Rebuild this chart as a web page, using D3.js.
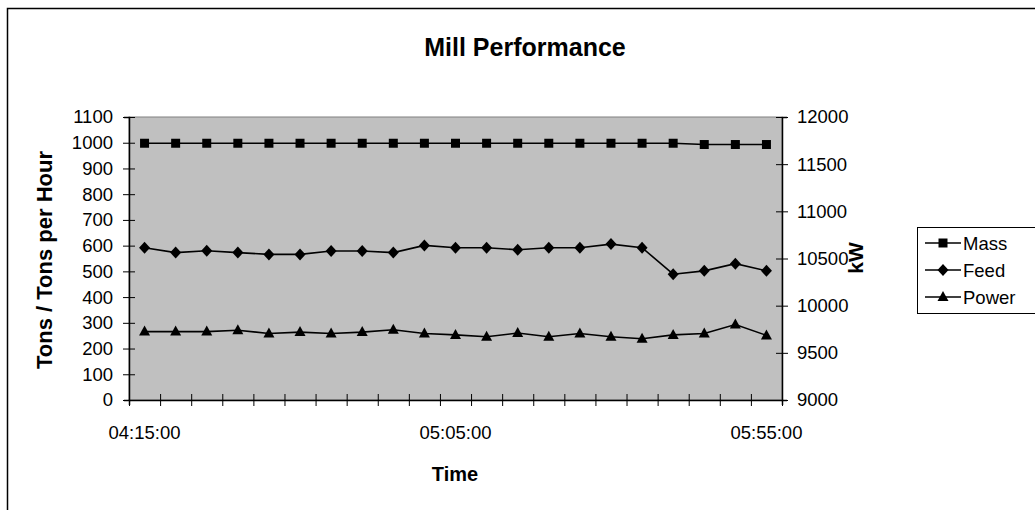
<!DOCTYPE html>
<html>
<head>
<meta charset="utf-8">
<script src="https://cdn.jsdelivr.net/npm/d3@7"></script>
<style>
  html, body { margin: 0; padding: 0; background: #fff; }
  svg { display: block; font-family: "Liberation Sans", Arial, sans-serif; }
</style>
</head>
<body>
<svg id="chart" width="1035" height="510"></svg>
<script>
// Sample times, one reading every five minutes
const times = ["04:15:00","04:20:00","04:25:00","04:30:00","04:35:00","04:40:00","04:45:00",
  "04:50:00","04:55:00","05:00:00","05:05:00","05:10:00","05:15:00","05:20:00","05:25:00",
  "05:30:00","05:35:00","05:40:00","05:45:00","05:50:00","05:55:00"];
const timeLabels = ["04:15:00", "05:05:00", "05:55:00"];

// Mill mass (tons) and feed rate (tons per hour), left axis
const mass = [998,998,998,998,998,998,998,998,998,998,998,998,998,998,998,998,998,998,993,993,993];
const feed = [592,573,580,573,566,566,579,579,573,601,592,592,584,592,592,606,592,489,502,530,502];
// Mill power draw (kW), right axis
const power = [9725,9725,9725,9740,9705,9720,9705,9720,9745,9705,9690,9670,9710,9670,9705,9670,9650,9690,9705,9800,9685];

const leftTicks = [0,100,200,300,400,500,600,700,800,900,1000,1100];
const rightTicks = [9000,9500,10000,10500,11000,11500,12000];

const svg = d3.select("#chart");
const plot = { left: 129, right: 782, top: 117, bottom: 400 };

const x = d3.scaleBand().domain(times).range([plot.left, plot.right]).paddingInner(0).paddingOuter(0);
const xEdge = d3.scaleLinear().domain([0, times.length]).range([plot.left, plot.right]);
const yL = d3.scaleLinear().domain([0, 1100]).range([plot.bottom, plot.top]);
const yR = d3.scaleLinear().domain([9000, 12000]).range([plot.bottom, plot.top]);
const cx = t => x(t) + x.bandwidth() / 2;

// Outer chart frame
svg.append("rect").attr("x", 7.5).attr("y", 8.5).attr("width", 1100).attr("height", 600)
  .attr("fill", "#fff").attr("stroke", "#000").attr("stroke-width", 1.5);

// Title
svg.append("text").attr("x", 525).attr("y", 56).attr("text-anchor", "middle")
  .attr("font-size", 25).attr("font-weight", "bold").text("Mill Performance");

// Plot area
svg.append("rect").attr("x", plot.left).attr("y", plot.top)
  .attr("width", plot.right - plot.left).attr("height", plot.bottom - plot.top)
  .attr("fill", "#c0c0c0").attr("stroke", "#808080").attr("stroke-width", 1);

const tickFont = 18.5;
const fmt = d3.format("d");

// Left axis
const gL = svg.append("g").attr("transform", `translate(${plot.left},0)`)
  .call(d3.axisLeft(yL).tickValues(leftTicks).tickFormat(fmt).tickSize(5).tickPadding(11));
// Right axis
const gR = svg.append("g").attr("transform", `translate(${plot.right},0)`)
  .call(d3.axisRight(yR).tickValues(rightTicks).tickFormat(fmt).tickSize(5).tickPadding(10));
// Bottom axis: tick marks on category boundaries
const gB = svg.append("g").attr("transform", `translate(0,${plot.bottom})`)
  .call(d3.axisBottom(xEdge).tickValues(d3.range(times.length + 1)).tickSize(5).tickFormat(""));

[gL, gR, gB].forEach(g => {
  g.select(".domain").attr("stroke", "#000").attr("stroke-width", 1.5);
  g.selectAll(".tick line").attr("stroke", "#000").attr("stroke-width", 1);
  g.selectAll("text").attr("font-size", tickFont).attr("fill", "#000")
    .attr("font-family", "'Liberation Sans', Arial, sans-serif");
});
// Cross-style tick marks
gL.selectAll(".tick line").attr("x1", -6).attr("x2", 6);
gR.selectAll(".tick line").attr("x1", -6).attr("x2", 6);
gB.selectAll(".tick line").attr("y1", -6).attr("y2", 6);

// Category labels
svg.append("g").selectAll("text").data(timeLabels).join("text")
  .attr("x", d => cx(d)).attr("y", 439).attr("text-anchor", "middle")
  .attr("font-size", tickFont).text(d => d);

// Axis titles
svg.append("text").attr("x", 455).attr("y", 481).attr("text-anchor", "middle")
  .attr("font-size", 20).attr("font-weight", "bold").text("Time");
svg.append("text").attr("transform", "translate(52,260) rotate(-90)").attr("text-anchor", "middle")
  .attr("font-size", 22).attr("font-weight", "bold").text("Tons / Tons per Hour");
svg.append("text").attr("transform", "translate(863,258) rotate(-90)").attr("text-anchor", "middle")
  .attr("font-size", 21).attr("font-weight", "bold").text("kW");

// Marker shapes
const sq = d3.symbol().type(d3.symbolSquare).size(81)();
const diamond = "M0,-6L5.5,0L0,6L-5.5,0Z";
const tri = "M0,-6L5.5,4L-5.5,4Z";

const seriesDefs = [
  { name: "Mass", values: mass, y: yL, marker: sq },
  { name: "Feed", values: feed, y: yL, marker: diamond },
  { name: "Power", values: power, y: yR, marker: tri }
];

seriesDefs.forEach(s => {
  const pts = times.map((t, i) => [cx(t), s.y(s.values[i])]);
  svg.append("path").attr("d", d3.line()(pts)).attr("fill", "none")
    .attr("stroke", "#000").attr("stroke-width", 1.6);
  svg.append("g").selectAll("path").data(pts).join("path")
    .attr("transform", d => `translate(${d[0]},${d[1]})`).attr("d", s.marker).attr("fill", "#000");
});

// Legend
const lg = svg.append("g");
lg.append("rect").attr("x", 917.5).attr("y", 227.5).attr("width", 140).attr("height", 86)
  .attr("fill", "#fff").attr("stroke", "#000").attr("stroke-width", 1);
seriesDefs.forEach((s, i) => {
  const ly = 243 + i * 27;
  lg.append("line").attr("x1", 925).attr("x2", 961).attr("y1", ly).attr("y2", ly)
    .attr("stroke", "#000").attr("stroke-width", 1.6);
  lg.append("path").attr("transform", `translate(943,${ly})`).attr("d", s.marker).attr("fill", "#000");
  lg.append("text").attr("x", 963).attr("y", ly + 7).attr("font-size", tickFont).text(s.name);
});
</script>
</body>
</html>
